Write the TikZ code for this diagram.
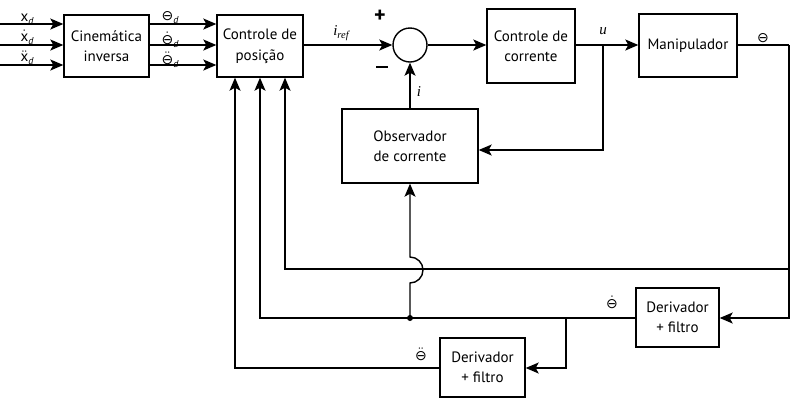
\documentclass[tikz,border=0pt]{standalone}
\usepackage{fontspec}
\setmainfont{PT Sans}
\newfontfamily\symf{DejaVu Sans}
\newfontfamily\tnr{Liberation Serif}
\usetikzlibrary{arrows.meta}
\newcommand\thsym{\hbox{\symf\fontsize{14}{14}\selectfont ⊖}}
\newcommand\subd{\smash{\raisebox{-3pt}{\fontsize{10}{10}\selectfont\itshape d}}}
\begin{document}
\begin{tikzpicture}[x=1pt,y=-1pt,
  blk/.style={draw,line width=1.4pt,align=center,inner sep=0pt,font=\fontsize{15}{20.5}\selectfont},
  ln/.style={line width=1.4pt},
  arr/.style={line width=1.4pt,-{Stealth[length=13pt,width=11pt,inset=3pt]}},
  lbl/.style={inner sep=0pt,font=\fontsize{15}{16}\selectfont},
  sgn/.style={inner sep=0pt,font=\fontsize{22}{22}\selectfont\bfseries}]
\useasboundingbox (0,0) rectangle (793,400);
% blocks
\node[blk,minimum width=85pt,minimum height=62pt] (cin) at (106.5,46) {Cinemática\\inversa};
\node[blk,minimum width=86pt,minimum height=62pt] (pos) at (260,46) {Controle de\\posição};
\node[draw,line width=1.4pt,circle,minimum size=34pt,inner sep=0pt] (sum) at (410,45) {};
\node[blk,minimum width=88pt,minimum height=74pt] (cc) at (531,46) {Controle de\\corrente};
\node[blk,minimum width=98pt,minimum height=63pt] (man) at (688,45.5) {Manipulador};
\node[blk,minimum width=136pt,minimum height=74pt] (obs) at (410,146) {Observador\\de corrente};
\node[blk,minimum width=83pt,minimum height=59pt] (d1) at (677.5,317.5) {Derivador\\+ filtro};
\node[blk,minimum width=85pt,minimum height=59pt] (d2) at (482.5,367.5) {Derivador\\+ filtro};
% inputs
\coordinate (in1) at (0,24);
\coordinate (in2) at (0,45);
\coordinate (in3) at (0,65);
\draw[arr] (in1) -- (cin.west |- in1);
\draw[arr] (in2) -- (cin.west |- in2);
\draw[arr] (in3) -- (cin.west |- in3);
\node[lbl,anchor=base] at (27,21) {x\subd};
\node[lbl,anchor=base] at (27,41) {$\dot{\hbox{x}}$\subd};
\node[lbl,anchor=base] at (27,61.5) {$\ddot{\hbox{x}}$\subd};
% desired joints
\draw[arr] (cin.east |- in1) -- (pos.west |- in1);
\draw[arr] (cin.east |- in2) -- (pos.west |- in2);
\draw[arr] (cin.east |- in3) -- (pos.west |- in3);
\node[lbl,anchor=base] at (170,20.5) {\thsym\subd};
\node[lbl,anchor=base] at (170,44) {$\dot{\thsym}$\subd};
\node[lbl,anchor=base] at (170,64) {$\ddot{\thsym}$\subd};
% main chain
\draw[arr] (pos.east |- sum.west) -- (sum.west);
\draw[arr] (sum.east) -- (cc.west |- sum.east);
\coordinate (ub) at (603,45);
\draw[arr] (cc.east |- sum.east) -- (man.west |- sum.east);
\node[lbl] at (341,33) {\tnr\itshape i\raisebox{-3pt}{\fontsize{10.5}{10.5}\selectfont ref}};
\node[lbl] at (603,31) {\tnr\itshape u};
\node[lbl] at (419,92) {\tnr\itshape i};
\node[sgn] at (380,16) {+};
\node[sgn] at (382,67) {\rule[0pt]{12pt}{2.8pt}};
% current observer
\draw[arr] (ub) -- (603,150) -- (obs.east |- 0,150);
\draw[arr] (obs.north) -- (sum.south);
% output feedback
\coordinate (oc) at (789,45);
\draw[ln] (man.east |- oc) -- (oc);
\node[lbl,anchor=base] at (763,42) {\thsym};
\draw[arr] (oc) -- (789,318) -- (d1.east |- 0,318);
\draw[arr] (789,269) -- (285,269) -- (pos.south -| 285,0);
\coordinate (jd) at (410,318);
\coordinate (br) at (566,318);
\draw[arr] (d1.west |- jd) -- (260,318) -- (pos.south -| 260,0);
\draw[arr] (br) -- (566,368) -- (d2.east |- 0,368);
\draw[arr] (d2.west |- 0,368) -- (235,368) -- (pos.south -| 235,0);
\fill (jd) circle (3pt);
\draw[arr] (jd) -- (410,283) arc[start angle=90,end angle=-90,radius=13] -- (obs.south);
\node[lbl,anchor=base] at (612,308) {$\dot{\thsym}$};
\node[lbl,anchor=base] at (421,360) {$\ddot{\thsym}$};
\end{tikzpicture}
\end{document}
